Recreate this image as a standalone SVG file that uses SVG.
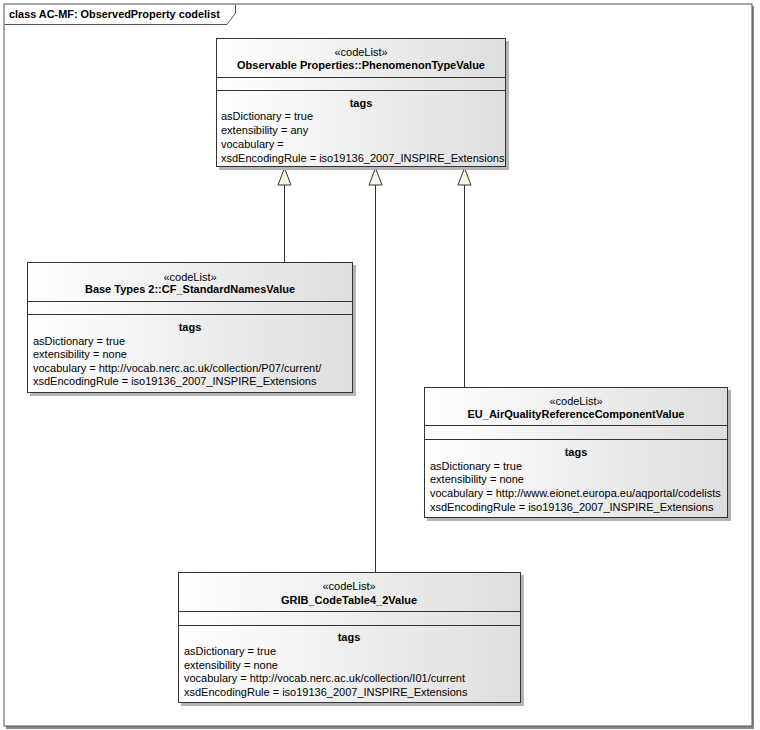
<svg xmlns="http://www.w3.org/2000/svg" width="760" height="730" viewBox="0 0 760 730">
<defs>
<linearGradient id="g" x1="0" y1="0" x2="1" y2="0">
<stop offset="0" stop-color="#ffffff"/>
<stop offset="1" stop-color="#dedede"/>
</linearGradient>
</defs>
<style>
text{font-family:"Liberation Sans",Arial,sans-serif;font-size:11px;fill:#000}
.t{font-size:10.9px}
.b{font-weight:bold}
.c{text-anchor:middle}
.box{fill:url(#g);stroke:#333;stroke-width:1}
.sh{fill:#b4b4b4}
.ln{stroke:#333;stroke-width:1}
.edge{stroke:#333;stroke-width:1;fill:none}
.head{fill:#fdf3e3;stroke:#333;stroke-width:1}
</style>
<rect width="760" height="730" fill="#fff"/>
<g id="frame">
<rect x="6" y="6" width="748" height="723" fill="#888"/>
<rect x="4" y="4" width="748" height="722" fill="#fff" stroke="#555" stroke-width="1"/>
<path d="M4.5 24.5 H227 L235.5 13 V4.5" fill="none" stroke="#555"/>
<text x="9" y="18" class="b t">class AC-MF: ObservedProperty codelist</text>
</g>
<g id="connectors">
<line class="edge" x1="284.5" y1="185" x2="284.5" y2="262"/>
<line class="edge" x1="375.5" y1="185" x2="375.5" y2="572"/>
<line class="edge" x1="464.5" y1="185" x2="464.5" y2="387"/>
<path class="head" d="M284.5 168 L291 185 H278 Z"/>
<path class="head" d="M375.5 168 L382 185 H369 Z"/>
<path class="head" d="M464.5 168 L471 185 H458 Z"/>
</g>
<g id="PhenomenonTypeValue">
<rect class="sh" x="219" y="41" width="290" height="129"/>
<rect class="box" x="216.5" y="38.5" width="289" height="128"/>
<line class="ln" x1="216.5" y1="77.5" x2="505.5" y2="77.5"/>
<line class="ln" x1="216.5" y1="90.5" x2="505.5" y2="90.5"/>
<text x="361" y="56" class="c">«codeList»</text>
<text x="361" y="69" class="c b">Observable Properties::PhenomenonTypeValue</text>
<text x="361" y="107" class="c b">tags</text>
<text x="221" y="120">asDictionary = true</text>
<text x="221" y="134">extensibility = any</text>
<text x="221" y="148">vocabulary =</text>
<text x="221" y="162">xsdEncodingRule = iso19136_2007_INSPIRE_Extensions</text>
</g>
<g id="CF_StandardNamesValue">
<rect class="sh" x="30" y="265" width="326" height="131"/>
<rect class="box" x="27.5" y="262.5" width="325" height="130"/>
<line class="ln" x1="27.5" y1="301.5" x2="352.5" y2="301.5"/>
<line class="ln" x1="27.5" y1="314.5" x2="352.5" y2="314.5"/>
<text x="190" y="281" class="c">«codeList»</text>
<text x="190" y="293" class="c b">Base Types 2::CF_StandardNamesValue</text>
<text x="190" y="331" class="c b">tags</text>
<text x="33" y="345">asDictionary = true</text>
<text x="33" y="358">extensibility = none</text>
<text x="33" y="372">vocabulary = http://vocab.nerc.ac.uk/collection/P07/current/</text>
<text x="33" y="385">xsdEncodingRule = iso19136_2007_INSPIRE_Extensions</text>
</g>
<g id="EU_AirQualityReferenceComponentValue">
<rect class="sh" x="427" y="390" width="304" height="131"/>
<rect class="box" x="424.5" y="387.5" width="303" height="130"/>
<line class="ln" x1="424.5" y1="425.5" x2="727.5" y2="425.5"/>
<line class="ln" x1="424.5" y1="439.5" x2="727.5" y2="439.5"/>
<text x="576" y="405" class="c">«codeList»</text>
<text x="576" y="418" class="c b">EU_AirQualityReferenceComponentValue</text>
<text x="576" y="456" class="c b">tags</text>
<text x="430" y="470">asDictionary = true</text>
<text x="430" y="483">extensibility = none</text>
<text x="430" y="497">vocabulary = http://www.eionet.europa.eu/aqportal/codelists</text>
<text x="430" y="511">xsdEncodingRule = iso19136_2007_INSPIRE_Extensions</text>
</g>
<g id="GRIB_CodeTable4_2Value">
<rect class="sh" x="181" y="575" width="343" height="131"/>
<rect class="box" x="178.5" y="572.5" width="342" height="130"/>
<line class="ln" x1="178.5" y1="611.5" x2="520.5" y2="611.5"/>
<line class="ln" x1="178.5" y1="625.5" x2="520.5" y2="625.5"/>
<text x="349" y="590" class="c">«codeList»</text>
<text x="349" y="604" class="c b">GRIB_CodeTable4_2Value</text>
<text x="349" y="641" class="c b">tags</text>
<text x="184" y="655">asDictionary = true</text>
<text x="184" y="669">extensibility = none</text>
<text x="184" y="682">vocabulary = http://vocab.nerc.ac.uk/collection/I01/current</text>
<text x="184" y="696">xsdEncodingRule = iso19136_2007_INSPIRE_Extensions</text>
</g>
</svg>
